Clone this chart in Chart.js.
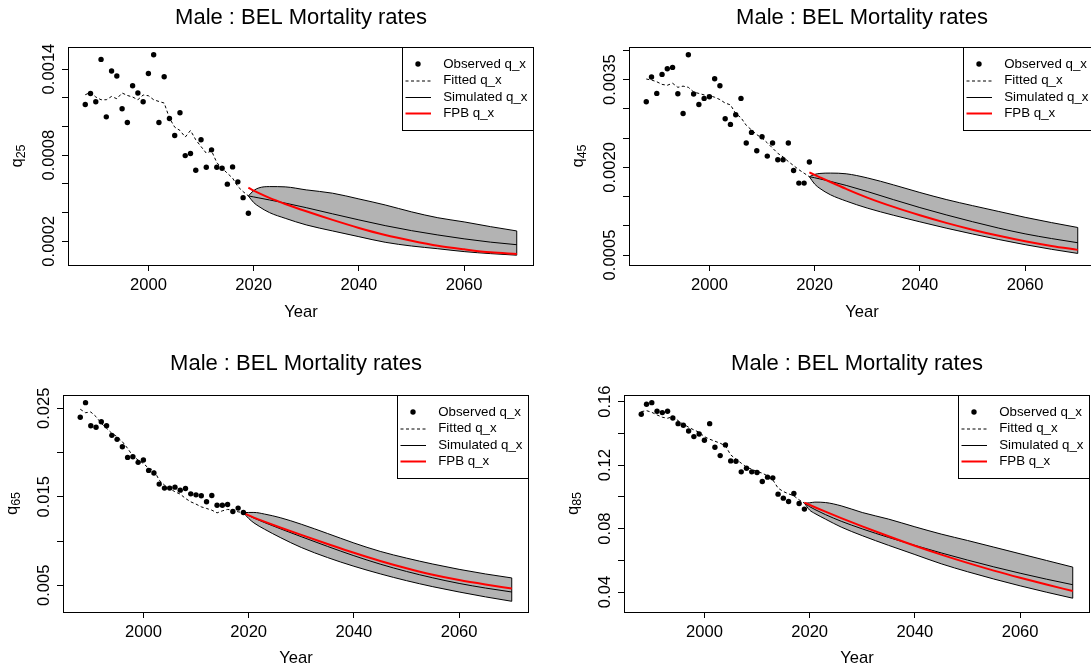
<!DOCTYPE html>
<html>
<head>
<meta charset="utf-8">
<title>Male : BEL Mortality rates</title>
<script src="https://cdn.jsdelivr.net/npm/chart.js@4.4.1/dist/chart.umd.min.js"></script>
<style>
  html, body { margin: 0; padding: 0; background: #ffffff; }
  #page { position: relative; width: 1091px; height: 670px; overflow: hidden; background: #ffffff; }
  .panel { position: absolute; }
  .panel canvas { display: block; }
</style>
</head>
<body>
<div id="page">
  <div class="panel" id="p25"><canvas id="c25"></canvas></div>
  <div class="panel" id="p45"><canvas id="c45"></canvas></div>
  <div class="panel" id="p65"><canvas id="c65"></canvas></div>
  <div class="panel" id="p85"><canvas id="c85"></canvas></div>
</div>
<script>
// ---------- shared labels ----------
const chartTitle = 'Male : BEL Mortality rates';
const xAxisTitle = 'Year';
const legendLabels = ['Observed q_x', 'Fitted q_x', 'Simulated q_x', 'FPB q_x'];
const xTickValues = [2000, 2020, 2040, 2060];
const xTickLabels = ['2000', '2020', '2040', '2060'];

// ---------- years ----------
const obsYears = [1988, 1989, 1990, 1991, 1992, 1993, 1994, 1995, 1996, 1997, 1998, 1999,
                  2000, 2001, 2002, 2003, 2004, 2005, 2006, 2007, 2008, 2009, 2010, 2011,
                  2012, 2013, 2014, 2015, 2016, 2017, 2018, 2019];
const projYears = [2019, 2020, 2021, 2023, 2026, 2030, 2035, 2040, 2045, 2050, 2055, 2060, 2065, 2070];

// ---------- age 25 ----------
const q25Observed = [0.001153, 0.00123, 0.001172, 0.001467, 0.001067, 0.001386, 0.001351, 0.001123,
                     0.001028, 0.001284, 0.001233, 0.001172, 0.001369, 0.0015, 0.001028, 0.001346,
                     0.001055, 0.000937, 0.001095, 0.000797, 0.000811, 0.000695, 0.000907, 0.000716,
                     0.000837, 0.000716, 0.000709, 0.000598, 0.000718, 0.000614, 0.000504, 0.000395];
const q25Fitted = [0.001221, 0.001237, 0.001205, 0.001186, 0.001186, 0.001209, 0.001193, 0.001233,
                   0.001216, 0.001205, 0.001186, 0.001219, 0.001214, 0.001186, 0.001174, 0.001163,
                   0.001058, 0.000995, 0.000972, 0.000926, 0.000972, 0.000907, 0.00086, 0.000814,
                   0.00083, 0.000748, 0.000709, 0.000674, 0.00064, 0.000581, 0.000546, 0.000516];
const q25Upper  = [0.000516, 0.000553, 0.000572, 0.000581, 0.000579, 0.000558, 0.000535, 0.000495,
                   0.000453, 0.000405, 0.000364, 0.000335, 0.000302, 0.000272];
const q25Lower  = [0.000516, 0.00047, 0.000442, 0.0004, 0.00036, 0.000314, 0.000272, 0.000232,
                   0.000193, 0.000167, 0.000148, 0.000128, 0.000114, 0.000103];
const q25Median = [0.000516, 0.000509, 0.000502, 0.000488, 0.000466, 0.000434, 0.000391, 0.000349,
                   0.000309, 0.000274, 0.000244, 0.000217, 0.000194, 0.000176];
const q25FPB    = [0.000574, 0.000553, 0.000535, 0.000502, 0.00046, 0.000409, 0.000349, 0.000293,
                   0.000244, 0.000204, 0.000169, 0.000144, 0.000123, 0.000112];
const q25TickValues = [0.0002, 0.0004, 0.0006, 0.0008, 0.0010, 0.0012, 0.0014];
const q25TickLabels = ['0.0002', '', '', '0.0008', '', '', '0.0014'];

// ---------- age 45 ----------
const q45Observed = [0.003123, 0.003546, 0.003266, 0.003591, 0.003688, 0.003711, 0.00326, 0.002923,
                     0.003928, 0.003255, 0.003077, 0.00318, 0.003209, 0.003517, 0.003397, 0.002832,
                     0.002735, 0.002901, 0.00318, 0.002416, 0.002598, 0.002284, 0.002524, 0.002193,
                     0.002416, 0.00213, 0.00213, 0.002416, 0.001947, 0.001731, 0.001731, 0.002091];
const q45Fitted = [0.003512, 0.003495, 0.003465, 0.00342, 0.003405, 0.00344, 0.00337, 0.00339,
                   0.00337, 0.00329, 0.003265, 0.00324, 0.00323, 0.0032, 0.00316, 0.0031,
                   0.00307, 0.00292, 0.00285, 0.00272, 0.00264, 0.00256, 0.0025, 0.00242,
                   0.00233, 0.00224, 0.00218, 0.0021, 0.00203, 0.00196, 0.0019, 0.00184];
const q45Upper  = [0.00184, 0.001879, 0.001896, 0.001902, 0.00189, 0.00182, 0.0017, 0.00157,
                   0.00145, 0.001345, 0.001245, 0.001145, 0.001055, 0.000971];
const q45Lower  = [0.00184, 0.001714, 0.001639, 0.001531, 0.001423, 0.001303, 0.00118, 0.001068,
                   0.00096, 0.00086, 0.000765, 0.000677, 0.000598, 0.000527];
const q45Median = [0.00184, 0.001822, 0.001802, 0.00176, 0.001691, 0.001587, 0.001447, 0.001312,
                   0.001187, 0.00107, 0.00096, 0.000862, 0.000782, 0.00071];
const q45FPB    = [0.001913, 0.001871, 0.00183, 0.001749, 0.001631, 0.001483, 0.001323, 0.00118,
                   0.00105, 0.000933, 0.000828, 0.000735, 0.000655, 0.000588];
const q45TickValues = [0.0005, 0.0010, 0.0015, 0.0020, 0.0025, 0.0030, 0.0035, 0.0040];
const q45TickLabels = ['0.0005', '', '', '0.0020', '', '', '0.0035', ''];

// ---------- age 65 ----------
const q65Observed = [0.02398, 0.025634, 0.02303, 0.02285, 0.02348, 0.02303, 0.02194, 0.02149,
                     0.02065, 0.01945, 0.01952, 0.01889, 0.01915, 0.01798, 0.01768, 0.01643,
                     0.01598, 0.01598, 0.01609, 0.01575, 0.01594, 0.01533, 0.01522, 0.01511,
                     0.01443, 0.01515, 0.01405, 0.01405, 0.01413, 0.01334, 0.01372, 0.01323];
const q65Fitted = [0.02489, 0.0245, 0.02458, 0.02405, 0.0233, 0.02274, 0.02217, 0.02179,
                   0.02122, 0.02047, 0.0196, 0.01915, 0.01877, 0.01821, 0.01802, 0.01688,
                   0.01632, 0.01594, 0.01556, 0.0153, 0.01481, 0.01443, 0.01417, 0.01386,
                   0.01368, 0.01349, 0.01318, 0.01341, 0.01357, 0.01349, 0.0133, 0.0132];
const q65Upper  = [0.0132, 0.01323, 0.01323, 0.01305, 0.01264, 0.0119, 0.01085, 0.00978,
                   0.00883, 0.00807, 0.0074, 0.0068, 0.00628, 0.00583];
const q65Lower  = [0.0132, 0.01255, 0.01205, 0.01134, 0.0104, 0.00927, 0.00813, 0.00715,
                   0.00629, 0.00552, 0.00484, 0.00424, 0.00369, 0.00319];
const q65Median = [0.0132, 0.01287, 0.01259, 0.01209, 0.01139, 0.01049, 0.00939, 0.00834,
                   0.00739, 0.00656, 0.00584, 0.00521, 0.00469, 0.00424];
const q65FPB    = [0.0132, 0.0129, 0.01265, 0.01219, 0.01153, 0.01069, 0.00967, 0.00867,
                   0.00774, 0.00692, 0.00619, 0.00559, 0.00509, 0.00464];
const q65TickValues = [0.005, 0.010, 0.015, 0.020, 0.025];
const q65TickLabels = ['0.005', '', '0.015', '', '0.025'];

// ---------- age 85 ----------
const q85Observed = [0.15205, 0.15834, 0.15937, 0.15393, 0.15309, 0.15393, 0.14974, 0.14615,
                     0.14511, 0.14155, 0.13796, 0.13966, 0.1357, 0.14615, 0.1313, 0.126,
                     0.13274, 0.12267, 0.12246, 0.11574, 0.11806, 0.11574, 0.1153, 0.10963,
                     0.1124, 0.11196, 0.1017, 0.09918, 0.09704, 0.10208, 0.09578, 0.09226];
const q85Fitted = [0.1537, 0.15433, 0.15328, 0.15163, 0.15018, 0.14955, 0.15056, 0.14804,
                   0.1459, 0.14388, 0.14218, 0.14073, 0.13796, 0.13633, 0.13507, 0.13381,
                   0.13211, 0.12644, 0.12374, 0.12122, 0.1187, 0.11744, 0.11593, 0.11492,
                   0.11322, 0.1107, 0.10548, 0.10334, 0.10189, 0.10063, 0.09811, 0.096];
const q85Upper  = [0.096, 0.09622, 0.09666, 0.09641, 0.09433, 0.09012, 0.08596, 0.08111,
                   0.07652, 0.07249, 0.0683, 0.0641, 0.0599, 0.0557];
const q85Lower  = [0.096, 0.09163, 0.08949, 0.08596, 0.08092, 0.07552, 0.06942, 0.06362,
                   0.05779, 0.05279, 0.04819, 0.04389, 0.03989, 0.03609];
const q85Median = [0.096, 0.0938, 0.092, 0.0888, 0.0846, 0.0798, 0.0744, 0.0694,
                   0.06465, 0.06015, 0.05585, 0.05185, 0.0481, 0.0446];
const q85FPB    = [0.0964, 0.0949, 0.09345, 0.09065, 0.0866, 0.0814, 0.07515, 0.06915,
                   0.06355, 0.05835, 0.0535, 0.049, 0.04475, 0.0406];
const q85TickValues = [0.04, 0.06, 0.08, 0.10, 0.12, 0.14, 0.16];
const q85TickLabels = ['0.04', '', '0.08', '', '0.12', '', '0.16'];

// ---------- look ----------
const FONT = "'Liberation Sans', Arial, Helvetica, sans-serif";
const TICK_FONT_SIZE = 16.6;
const TITLE_FONT_SIZE = 22;
const LEGEND_FONT_SIZE = 13.3;
const BAND_FILL = '#b3b3b3';
const FPB_RED = '#ff0000';
const FITTED_DASH = [3, 2.5];
const DOT_RADIUS = 2.7;

// Panel placement on the page: canvas rectangle, plot box, and text offsets (px).
const layouts = {
  '25': { left: 0,   top: 0,   width: 545, height: 335, boxL: 68, boxT: 47, boxR: 534,  boxB: 265, titleMid: 17.5, yearMid: 312.5 },
  '45': { left: 545, top: 0,   width: 560, height: 335, boxL: 84, boxT: 47, boxR: 550,  boxB: 265, titleMid: 17.5, yearMid: 312.5 },
  '65': { left: 0,   top: 335, width: 545, height: 335, boxL: 63, boxT: 60, boxR: 529,  boxB: 277, titleMid: 29.2, yearMid: 323.2 },
  '85': { left: 545, top: 335, width: 560, height: 335, boxL: 79, boxT: 60, boxR: 545,  boxB: 277, titleMid: 29.2, yearMid: 323.2 }
};

const panels = [
  { age: '25', observed: q25Observed, fitted: q25Fitted, upper: q25Upper, lower: q25Lower, median: q25Median, fpb: q25FPB,
    tickValues: q25TickValues, tickLabels: q25TickLabels, yMin: 0.0000347, yMax: 0.0015535 },
  { age: '45', observed: q45Observed, fitted: q45Fitted, upper: q45Upper, lower: q45Lower, median: q45Median, fpb: q45FPB,
    tickValues: q45TickValues, tickLabels: q45TickLabels, yMin: 0.000329, yMax: 0.00406 },
  { age: '65', observed: q65Observed, fitted: q65Fitted, upper: q65Upper, lower: q65Lower, median: q65Median, fpb: q65FPB,
    tickValues: q65TickValues, tickLabels: q65TickLabels, yMin: 0.00198, yMax: 0.0265 },
  { age: '85', observed: q85Observed, fitted: q85Fitted, upper: q85Upper, lower: q85Lower, median: q85Median, fpb: q85FPB,
    tickValues: q85TickValues, tickLabels: q85TickLabels, yMin: 0.0274, yMax: 0.1642 }
];

const X_MIN = 1984.72;
const X_MAX = 2073.28;

function toPoints(xs, ys) {
  return xs.map((x, i) => ({ x: x, y: ys[i] }));
}

// Box around the plot, rotated y tick labels, y axis title with subscript, and the inset legend.
function makeFramePlugin(panel) {
  return {
    id: 'frame' + panel.age,
    afterDatasetsDraw(chart) {
      const ctx = chart.ctx;
      const a = chart.chartArea;
      ctx.save();
      ctx.strokeStyle = '#000';
      ctx.lineWidth = 1;
      ctx.strokeRect(Math.round(a.left) + 0.5, Math.round(a.top) + 0.5,
                     Math.round(a.right - a.left) - 1, Math.round(a.bottom - a.top));
      ctx.restore();
    },
    afterDraw(chart) {
      const ctx = chart.ctx;
      const a = chart.chartArea;
      const yScale = chart.scales.y;

      // y tick labels, written bottom-to-top like the axis
      ctx.save();
      ctx.fillStyle = '#000';
      ctx.font = TICK_FONT_SIZE + 'px ' + FONT;
      ctx.textAlign = 'center';
      ctx.textBaseline = 'alphabetic';
      panel.tickValues.forEach((v, i) => {
        const label = panel.tickLabels[i];
        if (!label) return;
        const y = yScale.getPixelForValue(v);
        ctx.save();
        ctx.translate(a.left - 14.5, y);
        ctx.rotate(-Math.PI / 2);
        ctx.fillText(label, 0, 0);
        ctx.restore();
      });

      // y axis title: q with the age as subscript
      const mainFont = TICK_FONT_SIZE + 'px ' + FONT;
      const subFont = '12.5px ' + FONT;
      ctx.font = mainFont;
      const wq = ctx.measureText('q').width;
      ctx.font = subFont;
      const ws = ctx.measureText(panel.age).width;
      const total = wq + ws;
      ctx.save();
      ctx.translate(a.left - 46, (a.top + a.bottom) / 2);
      ctx.rotate(-Math.PI / 2);
      ctx.textAlign = 'left';
      ctx.font = mainFont;
      ctx.fillText('q', -total / 2, 0);
      ctx.font = subFont;
      ctx.fillText(panel.age, -total / 2 + wq, 2.5);
      ctx.restore();

      // inset legend in the top-right corner of the plot box
      const lw = 132, lh = 83;
      const right = Math.round(a.right);
      const top = Math.round(a.top);
      const lx = right - lw;
      ctx.fillStyle = '#fff';
      ctx.fillRect(lx, top, lw, lh);
      ctx.strokeStyle = '#000';
      ctx.lineWidth = 1;
      ctx.strokeRect(lx + 0.5, top + 0.5, lw - 1, lh);
      const rows = [17, 33.5, 50, 66.5];
      const symL = right - 128.5, symR = right - 103, symC = right - 116;
      // observed: filled dot
      ctx.fillStyle = '#000';
      ctx.beginPath();
      ctx.arc(symC, top + rows[0], DOT_RADIUS, 0, Math.PI * 2);
      ctx.fill();
      // fitted: dashed
      ctx.beginPath();
      ctx.setLineDash(FITTED_DASH);
      ctx.moveTo(symL, top + rows[1] + 0.5);
      ctx.lineTo(symR, top + rows[1] + 0.5);
      ctx.stroke();
      ctx.setLineDash([]);
      // simulated: solid black
      ctx.beginPath();
      ctx.moveTo(symL, top + rows[2] + 0.5);
      ctx.lineTo(symR, top + rows[2] + 0.5);
      ctx.stroke();
      // FPB: red
      ctx.strokeStyle = FPB_RED;
      ctx.lineWidth = 2;
      ctx.beginPath();
      ctx.moveTo(symL, top + rows[3]);
      ctx.lineTo(symR, top + rows[3]);
      ctx.stroke();
      // texts
      ctx.fillStyle = '#000';
      ctx.font = LEGEND_FONT_SIZE + 'px ' + FONT;
      ctx.textAlign = 'left';
      ctx.textBaseline = 'middle';
      legendLabels.forEach((t, i) => ctx.fillText(t, right - 90.8, top + rows[i]));
      ctx.restore();
    }
  };
}

Chart.defaults.color = '#000';
Chart.defaults.font.family = FONT;

panels.forEach(panel => {
  const L = layouts[panel.age];
  const holder = document.getElementById('p' + panel.age);
  holder.style.left = L.left + 'px';
  holder.style.top = L.top + 'px';
  holder.style.width = L.width + 'px';
  holder.style.height = L.height + 'px';
  const canvas = document.getElementById('c' + panel.age);
  canvas.width = L.width;
  canvas.height = L.height;

  const titleLine = TITLE_FONT_SIZE * 1.2;
  const titlePadTop = L.titleMid - titleLine / 2;
  const titlePadBottom = L.boxT - titleLine - titlePadTop;
  const tickLine = TICK_FONT_SIZE * 1.2;
  const yearPadBottom = L.height - L.yearMid - tickLine / 2;
  const xAxisHeight = L.height - L.boxB;
  const last = projYears.length - 1;

  new Chart(canvas, {
    type: 'scatter',
    data: {
      datasets: [
        { label: legendLabels[0], data: toPoints(obsYears, panel.observed), showLine: false,
          pointRadius: DOT_RADIUS, pointBackgroundColor: '#000', pointBorderWidth: 0, pointHoverRadius: DOT_RADIUS },
        { label: legendLabels[3], data: toPoints(projYears, panel.fpb), showLine: true,
          borderColor: FPB_RED, borderWidth: 2, pointRadius: 0, cubicInterpolationMode: 'monotone', fill: false },
        { label: legendLabels[2], data: toPoints(projYears, panel.median), showLine: true,
          borderColor: '#000', borderWidth: 1, pointRadius: 0, cubicInterpolationMode: 'monotone', fill: false },
        { label: legendLabels[1], data: toPoints(obsYears, panel.fitted), showLine: true,
          borderColor: '#000', borderWidth: 1, borderDash: FITTED_DASH, pointRadius: 0, tension: 0, fill: false },
        { label: 'upper', data: toPoints(projYears, panel.upper), showLine: true,
          borderColor: '#000', borderWidth: 1, pointRadius: 0, cubicInterpolationMode: 'monotone',
          fill: '+1', backgroundColor: BAND_FILL },
        { label: 'lower', data: toPoints(projYears, panel.lower), showLine: true,
          borderColor: '#000', borderWidth: 1, pointRadius: 0, cubicInterpolationMode: 'monotone', fill: false },
        { label: 'band end', data: [{ x: projYears[last], y: panel.lower[last] }, { x: projYears[last], y: panel.upper[last] }],
          showLine: true, borderColor: '#000', borderWidth: 1, pointRadius: 0, fill: false }
      ]
    },
    options: {
      responsive: false,
      animation: false,
      events: [],
      layout: { padding: { left: 0, top: 0, bottom: 0, right: L.width - L.boxR } },
      plugins: {
        legend: { display: false },
        tooltip: { enabled: false },
        filler: { drawTime: 'beforeDatasetsDraw' },
        title: {
          display: true, text: chartTitle, fullSize: false, color: '#000',
          font: { family: FONT, size: TITLE_FONT_SIZE, weight: 'normal', lineHeight: 1.2 },
          padding: { top: titlePadTop, bottom: titlePadBottom }
        }
      },
      scales: {
        x: {
          type: 'linear', min: X_MIN, max: X_MAX,
          afterBuildTicks: (scale) => { scale.ticks = xTickValues.map(v => ({ value: v })); },
          afterFit: (scale) => { scale.height = xAxisHeight; },
          ticks: {
            autoSkip: false, maxRotation: 0, minRotation: 0, padding: 4, color: '#000',
            font: { family: FONT, size: TICK_FONT_SIZE, lineHeight: 1.2 },
            callback: (v) => { const k = xTickValues.indexOf(v); return k >= 0 ? xTickLabels[k] : ''; }
          },
          grid: { display: true, drawOnChartArea: false, drawTicks: true, tickLength: 6, tickColor: '#000', tickWidth: 1 },
          border: { display: false },
          title: {
            display: true, text: xAxisTitle, color: '#000',
            font: { family: FONT, size: TICK_FONT_SIZE, lineHeight: 1.2 },
            padding: { top: 0, bottom: yearPadBottom }
          }
        },
        y: {
          type: 'linear', min: panel.yMin, max: panel.yMax,
          afterBuildTicks: (scale) => { scale.ticks = panel.tickValues.map(v => ({ value: v })); },
          afterFit: (scale) => { scale.width = L.boxL; },
          ticks: { display: false },
          grid: { display: true, drawOnChartArea: false, drawTicks: true, tickLength: 6, tickColor: '#000', tickWidth: 1 },
          border: { display: false },
          title: { display: false }
        }
      }
    },
    plugins: [makeFramePlugin(panel)]
  });
});
</script>
</body>
</html>
